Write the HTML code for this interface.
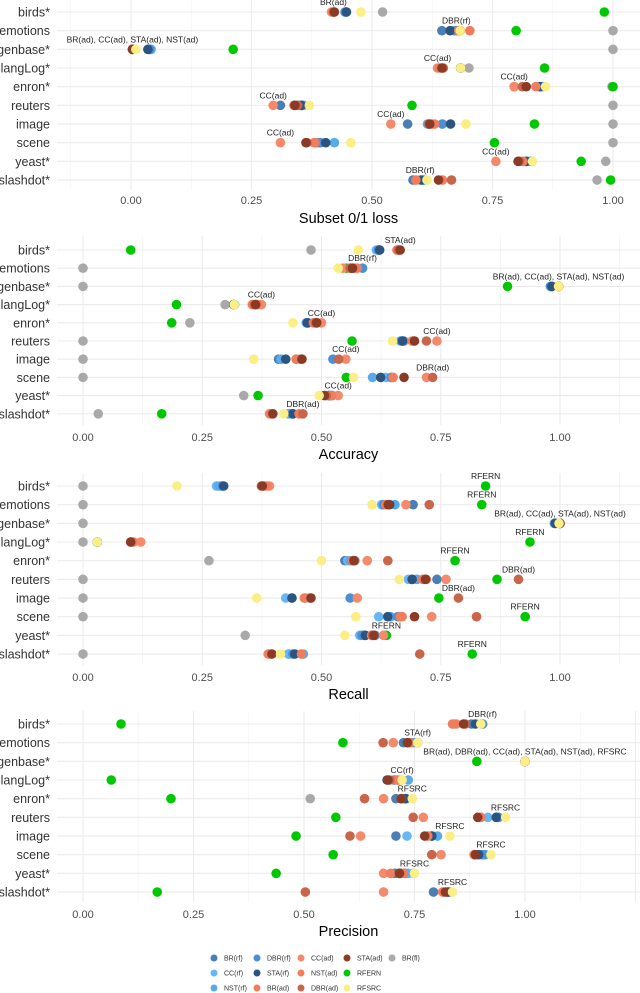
<!DOCTYPE html>
<html><head><meta charset="utf-8"><style>
html,body{margin:0;padding:0;background:#fff;}
svg{display:block;font-family:"Liberation Sans",sans-serif;}
</style></head><body>
<svg id="chart" width="640" height="993" viewBox="0 0 640 993" xmlns="http://www.w3.org/2000/svg"></svg>
<script>
const datasets = ["birds*","emotions","genbase*","langLog*","enron*","reuters","image","scene","yeast*","slashdot*"];
const seriesNames = ["BR(rf)","CC(rf)","NST(rf)","DBR(rf)","STA(rf)","BR(ad)","CC(ad)","NST(ad)","DBR(ad)","STA(ad)","RFERN","RFSRC","BR(fl)"];
const seriesColors = ["#4a7fb5","#67b7f7","#5aa9e8","#4b8fd6","#2c5480","#f37a5a","#f4896b","#ee7e5e","#c8654a","#8b3a25","#00c800","#fbee84","#a9a9a9"];
const tickValues = [0,0.25,0.5,0.75,1];
const tickLabels = ["0.00","0.25","0.50","0.75","1.00"];

const subsetLoss = {
"BR(rf)":[.446,.645,.04,.684,.85,.31,.574,.393,.832,.585],
"CC(rf)":[.446,.672,.042,.684,.855,.358,.646,.385,.825,.61],
"NST(rf)":[.446,.67,.04,.684,.852,.356,.615,.422,.82,.608],
"DBR(rf)":[.444,.675,.038,.684,.85,.353,.646,.39,.83,.6],
"STA(rf)":[.447,.662,.035,.684,.848,.353,.663,.404,.82,.604],
"BR(ad)":[.42,.703,.003,.645,.795,.34,.63,.382,.813,.591],
"CC(ad)":[.416,.68,.003,.636,.795,.295,.539,.31,.757,.646],
"NST(ad)":[.42,.68,.003,.64,.84,.338,.625,.38,.813,.646],
"DBR(ad)":[.42,.683,.003,.648,.812,.346,.618,.365,.806,.665],
"STA(ad)":[.422,.683,.003,.645,.82,.34,.62,.363,.803,.638],
"RFERN":[.982,.799,.212,.858,1.0,.583,.837,.754,.934,.995],
"RFSRC":[.477,.683,.01,.684,.86,.37,.695,.456,.833,.614],
"BR(fl)":[.522,1,1,.701,.998,1,1,1,.985,.967]};
const accuracy = {
"BR(rf)":[.62,.565,.982,.316,.47,.67,.41,.646,.515,.431],
"CC(rf)":[.615,.56,.98,.318,.468,.665,.415,.635,.52,.43],
"NST(rf)":[.618,.56,.983,.316,.47,.673,.415,.607,.523,.435],
"DBR(rf)":[.62,.586,.98,.316,.472,.668,.524,.646,.52,.44],
"STA(rf)":[.622,.562,.983,.316,.47,.67,.425,.624,.517,.44],
"BR(ad)":[.66,.575,.997,.355,.483,.692,.455,.65,.52,.453],
"CC(ad)":[.66,.545,.997,.374,.5,.742,.551,.72,.535,.391],
"NST(ad)":[.658,.57,.997,.365,.49,.69,.447,.65,.52,.393],
"DBR(ad)":[.662,.56,.997,.36,.488,.72,.536,.733,.51,.461],
"STA(ad)":[.665,.565,.997,.362,.49,.695,.459,.673,.506,.398],
"RFERN":[.1,.552,.89,.196,.186,.564,.447,.552,.367,.165],
"RFSRC":[.577,.535,.997,.317,.44,.649,.358,.567,.495,.421],
"BR(fl)":[.478,0,0,.298,.224,0,0,0,.337,.032]};
const recall = {
"BR(rf)":[.29,.692,.99,.03,.549,.742,.438,.663,.59,.431],
"CC(rf)":[.28,.626,.99,.03,.555,.682,.425,.62,.58,.432],
"NST(rf)":[.285,.654,.988,.03,.56,.7,.475,.645,.613,.462],
"DBR(rf)":[.293,.63,.99,.03,.57,.69,.56,.66,.585,.44],
"STA(rf)":[.295,.643,.99,.03,.565,.69,.438,.639,.592,.444],
"BR(ad)":[.38,.635,1,.106,.569,.712,.464,.669,.605,.458],
"CC(ad)":[.391,.677,1,.121,.596,.761,.575,.731,.63,.388],
"NST(ad)":[.385,.635,1,.104,.565,.72,.466,.665,.605,.39],
"DBR(ad)":[.374,.726,1,.1,.639,.913,.787,.825,.607,.706],
"STA(ad)":[.376,.64,1,.1,.568,.718,.478,.695,.61,.396],
"RFERN":[.844,.836,.998,.937,.78,.868,.746,.927,.636,.816],
"RFSRC":[.197,.606,.998,.03,.5,.663,.364,.572,.549,.414],
"BR(fl)":[0,0,0,0,.264,0,0,0,.34,0]};
const precision = {
"BR(rf)":[.879,.725,1,.704,.708,.935,.708,.902,.706,.793],
"CC(rf)":[.9,.75,1,.722,.73,.916,.733,.911,.736,.832],
"NST(rf)":[.904,.745,1,.736,.731,.94,.802,.91,.73,.826],
"DBR(rf)":[.904,.735,1,.705,.725,.94,.79,.905,.72,.826],
"STA(rf)":[.888,.757,1,.688,.73,.935,.789,.895,.716,.826],
"BR(ad)":[.836,.739,1,.713,.72,.9,.78,.885,.725,.814],
"CC(ad)":[.845,.702,1,.713,.68,.77,.628,.81,.68,.68],
"NST(ad)":[.84,.735,1,.71,.72,.9,.78,.885,.696,.814],
"DBR(ad)":[.865,.679,1,.694,.637,.747,.604,.789,.716,.503],
"STA(ad)":[.861,.734,1,.69,.72,.893,.773,.888,.716,.82],
"RFERN":[.086,.588,.891,.064,.199,.572,.482,.566,.437,.168],
"RFSRC":[.9,.757,1,.722,.745,.956,.83,.923,.75,.836],
"BR(fl)":[null,null,null,null,.514,null,null,null,.748,null]};

const lossLabelSeries = ["BR(ad)","DBR(rf)","BR(ad)","CC(ad)","CC(ad)","CC(ad)","CC(ad)","CC(ad)","CC(ad)","DBR(rf)"];
const lossLabelText = ["BR(ad)","DBR(rf)","BR(ad), CC(ad), STA(ad), NST(ad)","CC(ad)","CC(ad)","CC(ad)","CC(ad)","CC(ad)","CC(ad)","DBR(rf)"];
const accLabelSeries = ["STA(ad)","DBR(rf)","BR(ad)","CC(ad)","CC(ad)","CC(ad)","CC(ad)","DBR(ad)","CC(ad)","DBR(ad)"];
const accLabelText = ["STA(ad)","DBR(rf)","BR(ad), CC(ad), STA(ad), NST(ad)","CC(ad)","CC(ad)","CC(ad)","CC(ad)","DBR(ad)","CC(ad)","DBR(ad)"];
const recLabelSeries = ["RFERN","RFERN","BR(ad)","RFERN","RFERN","DBR(ad)","DBR(ad)","RFERN","RFERN","RFERN"];
const recLabelText = ["RFERN","RFERN","BR(ad), CC(ad), STA(ad), NST(ad)","RFERN","RFERN","DBR(ad)","DBR(ad)","RFERN","RFERN","RFERN"];
const precLabelSeries = ["DBR(rf)","STA(rf)","BR(ad)","CC(rf)","RFSRC","RFSRC","RFSRC","RFSRC","RFSRC","RFSRC"];
const precLabelText = ["DBR(rf)","STA(rf)","BR(ad), DBR(ad), CC(ad), STA(ad), NST(ad), RFSRC","CC(rf)","RFSRC","RFSRC","RFSRC","RFSRC","RFSRC","RFSRC"];

const NS="http://www.w3.org/2000/svg";
const svg=document.getElementById('chart');
function mk(tag,attrs,parent){const e=document.createElementNS(NS,tag);for(const k in attrs)e.setAttribute(k,attrs[k]);(parent||svg).appendChild(e);return e;}

const panels=[
 {key:"loss",data:subsetLoss,ls:lossLabelSeries,lt:lossLabelText,title:"Subset 0/1 loss",x0:131,x1:613,y0:12,step:18.67,top:0,bottom:190,tickY:204,titleY:223},
 {key:"accuracy",data:accuracy,ls:accLabelSeries,lt:accLabelText,title:"Accuracy",x0:83,x1:560,y0:250,step:18.2,top:236,bottom:425,tickY:441,titleY:459},
 {key:"recall",data:recall,ls:recLabelSeries,lt:recLabelText,title:"Recall",x0:83,x1:560,y0:486,step:18.67,top:473,bottom:665,tickY:681,titleY:699},
 {key:"precision",data:precision,ls:precLabelSeries,lt:precLabelText,title:"Precision",x0:83,x1:525,y0:724,step:18.67,top:711,bottom:902,tickY:918,titleY:936}
];

panels.forEach(p=>{
 const g=mk('g',{});
 
 
 const xs=v=>p.x0+(p.x1-p.x0)*v;
 const ys=i=>p.y0+p.step*i;
 // minor grid
 for(let v=-0.125;v<1.3;v+=0.25){const x=xs(v);if(x<57||x>640)continue;
  const l=mk('line',{x1:x,x2:x,y1:p.top,y2:p.bottom,stroke:'#f3f3f3','stroke-width':0.8},g);
  
  }
 for(let v=0;v<1.3;v+=0.25){const x=xs(v);if(x>640)continue;
  const l=mk('line',{x1:x,x2:x,y1:p.top,y2:p.bottom,stroke:'#ebebeb','stroke-width':1.1},g);
  
  }
 datasets.forEach((d,i)=>{
  const l=mk('line',{x1:57,x2:640,y1:ys(i),y2:ys(i),stroke:'#ebebeb','stroke-width':1.1},g);
  
  
  const t=mk('text',{x:50,y:ys(i)+4.5,'text-anchor':'end','font-size':12.5,fill:'#333'},g);
  t.textContent=d;
  
  
 });
 tickValues.forEach((v,k)=>{
  const t=mk('text',{x:xs(v),y:p.tickY,'text-anchor':'middle','font-size':11,fill:'#4d4d4d'},g);
  t.textContent=tickLabels[k];
  
  
 });
 const tt=mk('text',{x:(57+640)/2,y:p.titleY,'text-anchor':'middle','font-size':14.5,fill:'#000'},g);
 tt.textContent=p.title;
 
 
 const order=[12,10,0,1,2,3,4,5,6,7,8,9,11];
 order.forEach(si=>{
  const name=seriesNames[si];
  p.data[name].forEach((v,i)=>{
   if(v===null)return;
   const c=mk('circle',{cx:xs(v),cy:ys(i),r:4.8,fill:seriesColors[si]},g);
   
   
  });
 });
 p.ls.forEach((s,i)=>{
  const v=p.data[s][i];
  const t=mk('text',{x:xs(v),y:ys(i)-7,'text-anchor':'middle','font-size':8.5,fill:'#222'},g);
  t.textContent=p.lt[i];
  
  
 });
});

// legend
const legendCols=[214,257,301,347,392];
const legendRows=[958,973,988];
seriesNames.forEach((n,i)=>{
 const col=Math.floor(i/3),row=i%3;
 const g=mk('g',{});
 
 
 mk('circle',{cx:legendCols[col],cy:legendRows[row],r:3.5,fill:seriesColors[i]},g);
 const t=mk('text',{x:legendCols[col]+10,y:legendRows[row]+2.5,'font-size':7,fill:'#333'},g);
 t.textContent=n;
});
</script>
</body></html>
